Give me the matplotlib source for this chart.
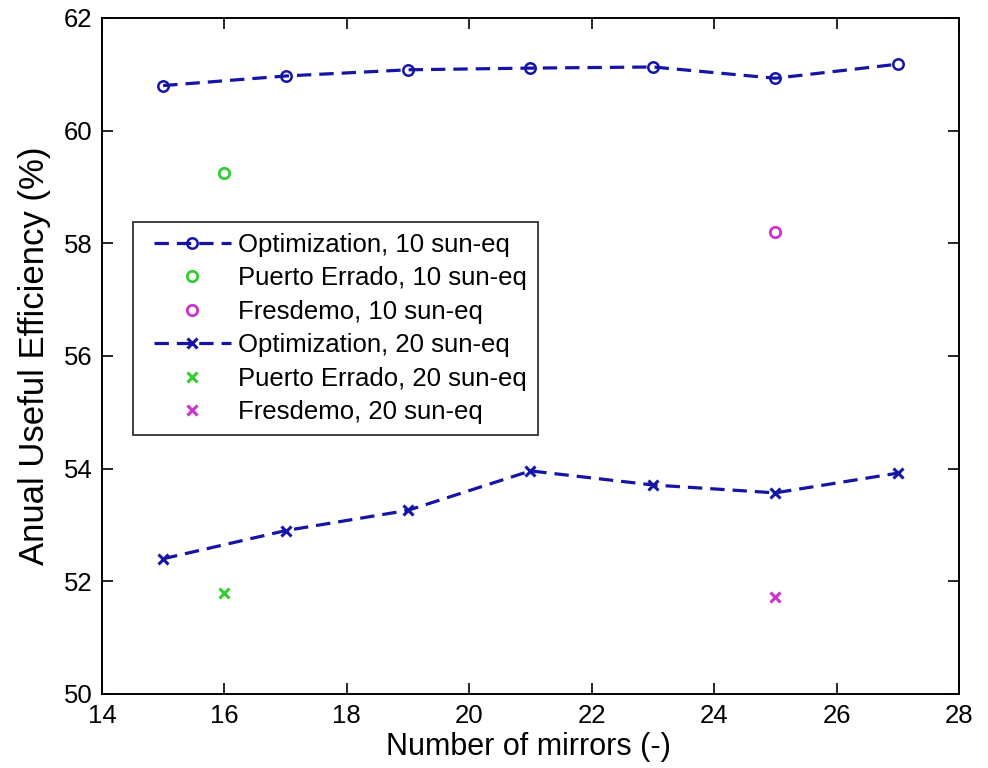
import matplotlib
matplotlib.use("Agg")
import matplotlib.pyplot as plt
from matplotlib import font_manager
from matplotlib.legend_handler import HandlerLine2D

names = {f.name for f in font_manager.fontManager.ttflist}
narrow = 'Liberation Sans Narrow' if 'Liberation Sans Narrow' in names else None

plt.rcParams['font.family'] = ['Liberation Sans', 'DejaVu Sans']

mirrors = [15, 17, 19, 21, 23, 25, 27]
opt_10 = [60.80, 60.97, 61.08, 61.11, 61.13, 60.93, 61.18]
opt_20 = [52.40, 52.90, 53.26, 53.96, 53.71, 53.57, 53.92]
pe_x = [16]
pe_10 = [59.25]
pe_20 = [51.79]
fd_x = [25]
fd_10 = [58.20]
fd_20 = [51.72]

blue = '#1414a6'
green = '#33cc33'
magenta = '#cc33cc'

fig = plt.figure(figsize=(9.88, 7.68), dpi=100)
ax = fig.add_axes([0.1032, 0.0964, 0.8674, 0.8802])

dash = (4.5, 2.5)
ax.plot(mirrors, opt_10, linestyle='--', color=blue, lw=2.3, marker='o', ms=7.5,
        mfc='none', mew=1.8, label='Optimization, 10 sun-eq', dashes=dash)
ax.plot(pe_x, pe_10, linestyle='none', color=green, marker='o', ms=7.5, mfc='none',
        mew=2, label='Puerto Errado, 10 sun-eq')
ax.plot(fd_x, fd_10, linestyle='none', color=magenta, marker='o', ms=7.5, mfc='none',
        mew=2, label='Fresdemo, 10 sun-eq')
ax.plot(mirrors, opt_20, linestyle='--', color=blue, lw=2.3, marker='x', ms=7.5,
        mew=2.2, label='Optimization, 20 sun-eq', dashes=dash)
ax.plot(pe_x, pe_20, linestyle='none', color=green, marker='x', ms=7.5,
        mew=2.2, label='Puerto Errado, 20 sun-eq')
ax.plot(fd_x, fd_20, linestyle='none', color=magenta, marker='x', ms=7.5,
        mew=2.2, label='Fresdemo, 20 sun-eq')

ax.set_xlim(14, 28)
ax.set_ylim(50, 62)
ax.set_xticks(range(14, 29, 2))
ax.set_yticks(range(50, 63, 2))
ax.tick_params(direction='in', top=True, right=True, labelsize=18.5, length=8, width=1.2)
ax.tick_params(axis='y', pad=7)
ax.tick_params(axis='x', pad=7)
for s in ax.spines.values():
    s.set_linewidth(1.4)

if narrow:
    ax.set_xlabel('Number of mirrors (-)', fontsize=26, family=[narrow, 'DejaVu Sans'])
else:
    ax.set_xlabel('Number of mirrors (-)', fontsize=22)
ax.set_ylabel('Anual Useful Efficiency (%)', fontsize=25)
ax.xaxis.set_label_coords(0.4977, -0.057)
ax.yaxis.set_label_coords(-0.0595, 0.5)

hmap = {h: HandlerLine2D(xpad=0.4) for h in ax.get_lines()}
leg = ax.legend(loc='upper left', bbox_to_anchor=(0.036, 0.698), fontsize=18.5,
                frameon=True, fancybox=False, edgecolor='black', handlelength=3.4,
                borderpad=0.42, labelspacing=0.37, handletextpad=0.28, borderaxespad=0,
                handler_map=hmap)
leg.get_frame().set_linewidth(1.3)

fig.savefig('out.png', dpi=100)
